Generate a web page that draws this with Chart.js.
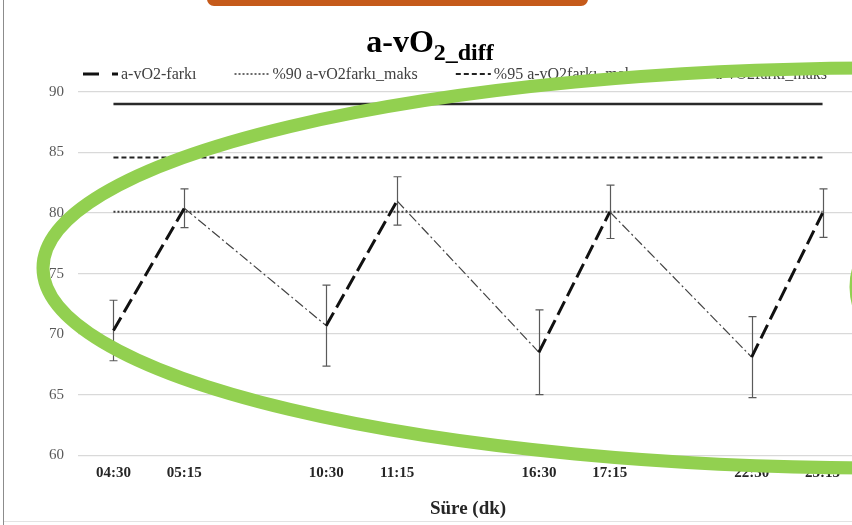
<!DOCTYPE html>
<html>
<head>
<meta charset="utf-8">
<title>a-vO2 diff</title>
<script src="https://cdn.jsdelivr.net/npm/chart.js@4.4.1/dist/chart.umd.min.js"></script>
<style>
  html, body { margin: 0; padding: 0; background: #fff; overflow: hidden; }
  body { width: 852px; height: 525px; position: relative; }
  #frameLeft { position: absolute; left: 3px; top: 0; width: 1px; height: 525px; background: #8c8c8c; }
  #frameBottom { position: absolute; left: 4px; top: 521px; width: 848px; height: 1px; background: #e3e3e3; }
  #tab { position: absolute; left: 207px; top: -8px; width: 381px; height: 14px; background: #c55a1a; border-radius: 0 0 7px 7px; }
  #chartBox { position: absolute; left: 0; top: 0; }
</style>
</head>
<body>
<div id="chartBox"><canvas id="avo2Chart" width="868" height="525"></canvas></div>
<div id="frameLeft"></div>
<div id="frameBottom"></div>
<div id="tab"></div>

<script>
// ---- data ----
const timeLabels = ["04:30", "05:15", "", "10:30", "11:15", "", "16:30", "17:15", "", "22:30", "23:15"];
const avo2Mean = [70.3, 80.4, null, 70.7, 81.0, null, 68.5, 80.1, null, 68.1, 80.0];
const avo2Sd = [2.5, 1.6, null, 3.35, 2.0, null, 3.5, 2.2, null, 3.35, 2.0];
const max90 = 80.1;
const max95 = 84.6;
const maxFull = 89.0;
const yTicks = [60, 65, 70, 75, 80, 85, 90];

const SERIF = "'Liberation Serif', 'Times New Roman', serif";

// rising part (x:30 -> x:15) is drawn heavy; the part bridging the empty slot is light.
// with spanGaps, p0DataIndex of the bridging piece points at the empty slot
const isRise = seg => avo2Mean[seg.p0DataIndex] != null;

const levelLine = v => timeLabels.map(() => v);

// error bars (mean +/- sd) under the main line
const errorBars = {
  id: "errorBars",
  beforeDatasetsDraw(chart) {
    const ctx = chart.ctx;
    const y = chart.scales.y;
    const meta = chart.getDatasetMeta(0);
    ctx.save();
    ctx.strokeStyle = "#5a5a5a";
    ctx.lineWidth = 1.2;
    meta.data.forEach((pt, i) => {
      if (avo2Mean[i] == null) return;
      const x = Math.round(pt.x) + 0.5;
      const top = y.getPixelForValue(avo2Mean[i] + avo2Sd[i]);
      const bot = y.getPixelForValue(avo2Mean[i] - avo2Sd[i]);
      ctx.beginPath();
      ctx.moveTo(x, top); ctx.lineTo(x, bot);
      ctx.moveTo(x - 4, top); ctx.lineTo(x + 4, top);
      ctx.moveTo(x - 4, bot); ctx.lineTo(x + 4, bot);
      ctx.stroke();
    });
    ctx.restore();
  }
};

// title with subscript + legend row + highlight ring
const decorations = {
  id: "decorations",
  afterDraw(chart) {
    const ctx = chart.ctx;
    ctx.save();

    // title: a-vO2_diff
    ctx.fillStyle = "#000";
    ctx.textBaseline = "alphabetic";
    const main = "a-vO";
    const sub = "2_diff";
    ctx.font = "bold 32px " + SERIF;
    const wMain = ctx.measureText(main).width;
    ctx.font = "bold 24px " + SERIF;
    const wSub = ctx.measureText(sub).width;
    const tx = 430 - (wMain + wSub) / 2;
    ctx.font = "bold 32px " + SERIF;
    ctx.fillText(main, tx, 52);
    ctx.font = "bold 24px " + SERIF;
    ctx.fillText(sub, tx + wMain, 60);

    // legend
    ctx.font = "16px " + SERIF;
    ctx.textBaseline = "middle";
    let lx = 83;
    const ly = 74;
    chart.data.datasets.forEach(ds => {
      ctx.beginPath();
      ctx.strokeStyle = ds.borderColor;
      ctx.lineWidth = ds.legendWidth || ds.borderWidth;
      ctx.setLineDash(ds.legendDash || ds.borderDash || []);
      ctx.moveTo(lx, ly);
      ctx.lineTo(lx + 35, ly);
      ctx.stroke();
      ctx.setLineDash([]);
      ctx.fillStyle = "#404040";
      ctx.fillText(ds.label, lx + 38, ly + 1);
      lx += 38 + ctx.measureText(ds.label).width + 38;
    });

    // green highlight ring
    ctx.strokeStyle = "#92d050";
    ctx.lineWidth = 13;
    ctx.beginPath();
    ctx.ellipse(885, 268, 842, 200, 0, 0, Math.PI * 2);
    ctx.stroke();
    ctx.beginPath();
    ctx.ellipse(1008, 287, 152, 100, 0, 0, Math.PI * 2);
    ctx.stroke();

    ctx.restore();
  }
};

new Chart(document.getElementById("avo2Chart"), {
  type: "line",
  data: {
    labels: timeLabels,
    datasets: [
      {
        label: "a-vO2-farkı",
        data: avo2Mean,
        spanGaps: true,
        borderColor: "#111",
        borderWidth: 3,
        legendDash: [16, 13],
        pointRadius: 0,
        segment: {
          borderDash: s => isRise(s) ? [15, 6] : [10, 3, 2, 3],
          borderWidth: s => isRise(s) ? 3 : 1.2,
          borderColor: s => isRise(s) ? "#111" : "#444"
        }
      },
      {
        label: "%90 a-vO2farkı_maks",
        data: levelLine(max90),
        borderColor: "#3a3a3a",
        borderWidth: 2,
        borderDash: [2, 2],
        legendWidth: 1.5,
        pointRadius: 0
      },
      {
        label: "%95 a-vO2farkı_maks",
        data: levelLine(max95),
        borderColor: "#222",
        borderWidth: 2,
        borderDash: [5, 3],
        pointRadius: 0
      },
      {
        label: "a-vO2farkı_maks",
        data: levelLine(maxFull),
        borderColor: "#2a2a2a",
        borderWidth: 2.5,
        pointRadius: 0
      }
    ]
  },
  options: {
    responsive: false,
    animation: false,
    devicePixelRatio: 1,
    layout: { padding: { top: 92, right: 10, bottom: 5, left: 0 } },
    plugins: {
      legend: { display: false },
      title: { display: false },
      tooltip: { enabled: false }
    },
    scales: {
      x: {
        type: "category",
        offset: true,
        grid: { display: false },
        border: { display: false },
        ticks: {
          autoSkip: false,
          maxRotation: 0,
          padding: 1,
          color: "#262626",
          font: { family: SERIF, size: 15, weight: "bold" }
        },
        title: {
          display: true,
          text: "Süre (dk)",
          color: "#262626",
          padding: { top: 14, bottom: 0 },
          font: { family: SERIF, size: 19, weight: "bold" }
        }
      },
      y: {
        min: 60,
        max: 90,
        afterBuildTicks: scale => { scale.ticks = yTicks.map(v => ({ value: v })); },
        afterFit: scale => { scale.width = 78; },
        grid: { color: "#d9d9d9", lineWidth: 1.3, drawTicks: false },
        border: { display: false },
        ticks: {
          padding: 14,
          color: "#595959",
          font: { family: SERIF, size: 15 }
        }
      }
    }
  },
  plugins: [errorBars, decorations]
});
</script>
</body>
</html>
